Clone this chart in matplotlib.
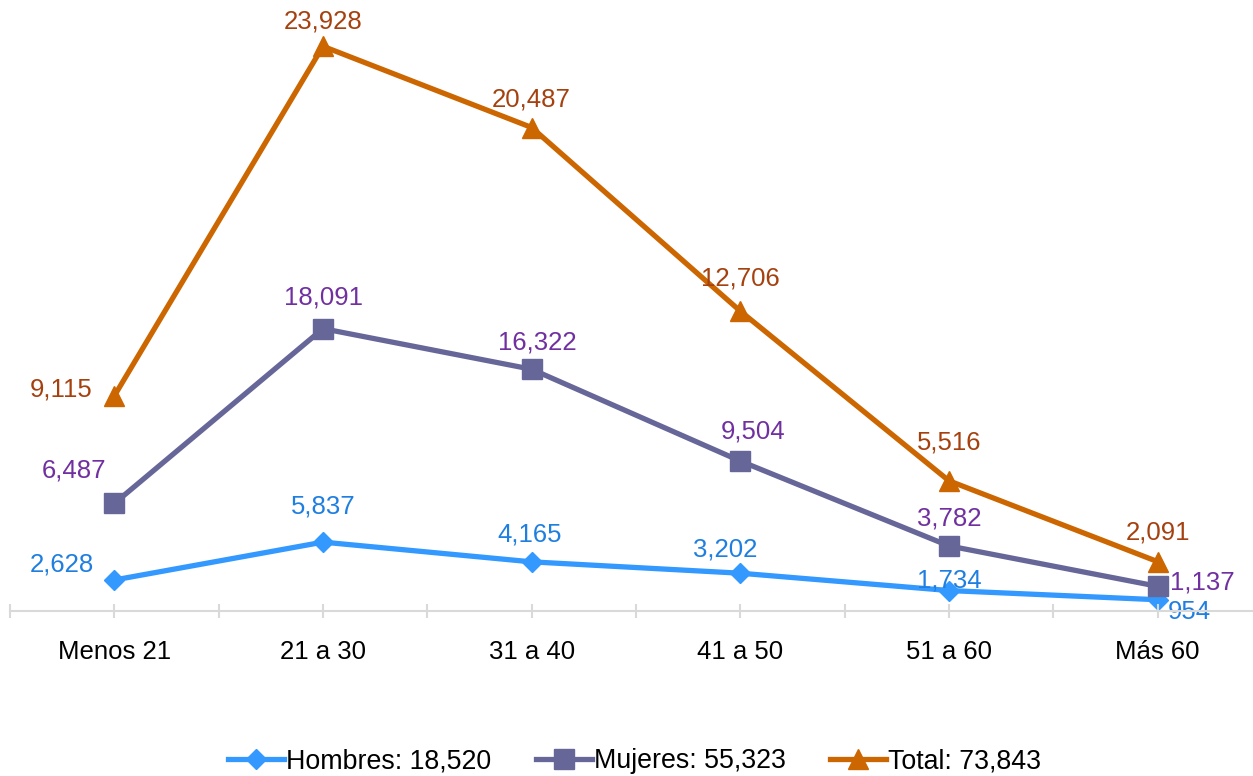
import matplotlib.pyplot as plt
import numpy as np

plt.rcParams['font.family'] = ['Liberation Sans', 'DejaVu Sans']

# data
categories = ["Menos 21", "21 a 30", "31 a 40", "41 a 50", "51 a 60", "Más 60"]
hombres = [2628, 5837, 4165, 3202, 1734, 954]
mujeres = [6487, 18091, 16322, 9504, 3782, 1137]
total = [9115, 23928, 20487, 12706, 5516, 2091]
legend_labels = ["Hombres: 18,520", "Mujeres: 55,323", "Total: 73,843"]

# colours
c_hom, c_hom_txt = '#3399FF', '#1F7FE0'
c_muj, c_muj_txt = '#666699', '#7030A0'
c_tot, c_tot_txt = '#CC6600', '#A5410E'

W, H = 1253, 776
fig = plt.figure(figsize=(W / 100, H / 100), dpi=100)

# plot area in pixels (axis line at y=611, top at y=21)
left, right, top, bottom = 10, 1262, 21, 611
rect = [left / W, (H - bottom) / H, (right - left) / W, (bottom - top) / H]

ax2 = fig.add_axes(rect)                # secondary scale (stacked Hombres / Mujeres)
ax = fig.add_axes(rect, sharex=ax2)     # primary scale (Total)
ax.patch.set_visible(False)

x = np.arange(len(categories))
fs = 18.5

# Mujeres is drawn stacked on top of Hombres, as in the original workbook
muj_stacked = np.add(hombres, mujeres)

ax2.plot(x, hombres, color=c_hom, lw=3.8, marker='D', ms=10, zorder=3)
ax2.plot(x, muj_stacked, color=c_muj, lw=3.8, marker='s', ms=14, zorder=3)
ax.plot(x, total, color=c_tot, lw=3.8, marker='^', ms=14, zorder=3)

ax2.set_ylim(0, 50000)
ax.set_ylim(0, 25000)
ax.set_xlim(-0.5, 5.5)

# data labels (offsets in pixels)
hom_off = [(-52, 15), (0, 36), (-2, 27), (-15, 24), (0, 10), (32, -12)]
muj_off = [(-40, 33), (0, 31), (6, 27), (13, 30), (0, 27), (45, 4)]
tot_off = [(-53, 6), (0, 25), (0, 28), (0, 33), (0, 38), (0, 29)]

for i in range(len(categories)):
    ax2.annotate(f"{hombres[i]:,}", (x[i], hombres[i]), xytext=hom_off[i],
                 textcoords='offset pixels', ha='center', va='center',
                 color=c_hom_txt, fontsize=fs, zorder=5)
    ax2.annotate(f"{mujeres[i]:,}", (x[i], muj_stacked[i]), xytext=muj_off[i],
                 textcoords='offset pixels', ha='center', va='center',
                 color=c_muj_txt, fontsize=fs, zorder=5)
    ax.annotate(f"{total[i]:,}", (x[i], total[i]), xytext=tot_off[i],
                textcoords='offset pixels', ha='center', va='center',
                color=c_tot_txt, fontsize=fs, zorder=5)

for a in (ax, ax2):
    for s in a.spines.values():
        s.set_visible(False)
    a.set_yticks([])

ax.spines['bottom'].set_visible(True)
ax.spines['bottom'].set_color('#D9D9D9')
ax.spines['bottom'].set_linewidth(1.5)
ax.set_xticks(x)
ax.set_xticklabels(categories, fontsize=fs)
ax.set_xticks(np.arange(-0.5, 5.6, 1.0), minor=True)
ax.tick_params(axis='x', which='both', direction='inout', length=10,
               width=1.5, color='#D9D9D9', pad=16)
ax2.tick_params(axis='x', which='both', bottom=False, labelbottom=False)

# legend
handles = [
    plt.Line2D([], [], color=c_hom, lw=3.8, marker='D', ms=10),
    plt.Line2D([], [], color=c_muj, lw=3.8, marker='s', ms=14),
    plt.Line2D([], [], color=c_tot, lw=3.8, marker='^', ms=14),
]
fig.legend(handles, legend_labels, loc='center', bbox_to_anchor=(0.5064, 0.019),
           ncol=3, frameon=False, fontsize=19.3, handlelength=2.09,
           handletextpad=0.08, columnspacing=1.64)

fig.savefig('out.png', dpi=100)
